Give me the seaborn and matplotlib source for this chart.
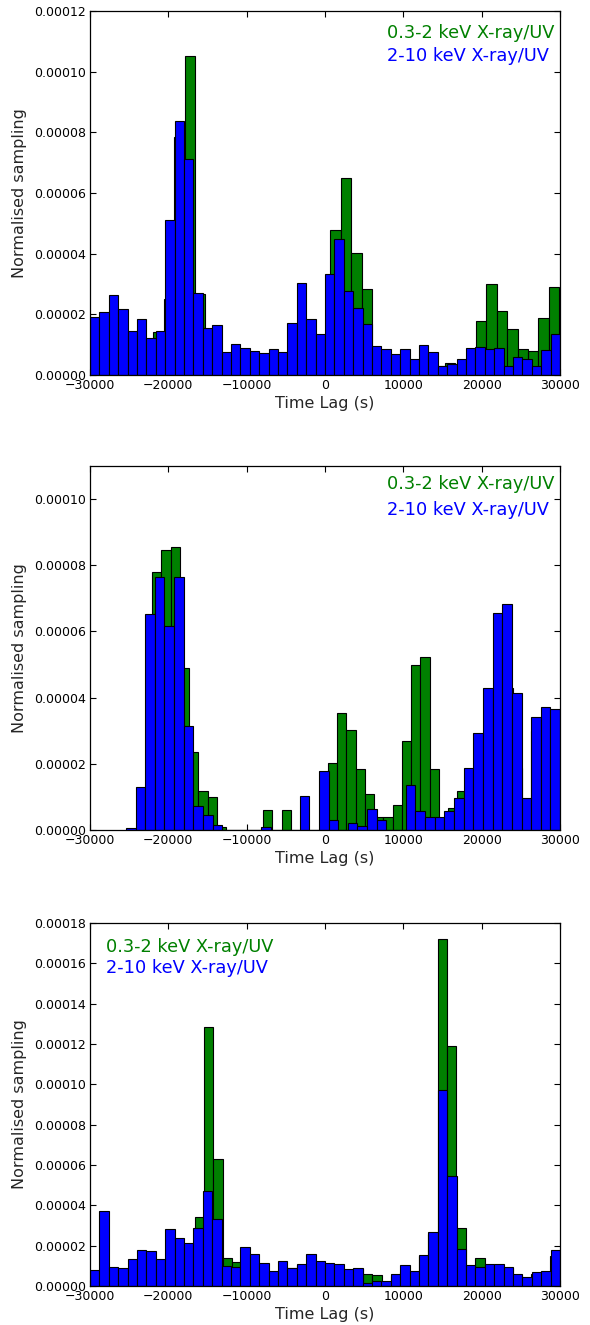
import numpy as np
import pandas as pd
import matplotlib
matplotlib.use("Agg")
import matplotlib.pyplot as plt
import seaborn as sns
from matplotlib.ticker import FormatStrFormatter, MultipleLocator

sns.set_style("white", {"xtick.direction": "in", "ytick.direction": "in",
                        "axes.edgecolor": "black"})
plt.rcParams["font.family"] = ["DejaVu Sans"]
plt.rcParams["axes.unicode_minus"] = True

# ---------------- data (normalised sampling, units of 1e-5) ----------------
series_labels = ["0.3-2 keV X-ray/UV", "2-10 keV X-ray/UV"]
x_label = "Time Lag (s)"
y_label = "Normalised sampling"
x_ticks = [-30000, -20000, -10000, 0, 10000, 20000, 30000]
units = 1e-5

# Panel 1
p1_soft_start, p1_soft_width = -29860, 1328
p1_soft = [1.8, 1.9, 2.0, 1.4, 1.4, 1.1, 1.41, 2.51, 7.86, 10.53,
           2.67, 1.4, 0.7, 0.7, 0.8, 0.75, 0.65, 0.65, 0.7, 1.5,
           1.7, 1.2, 1.2, 4.78, 6.51, 4.03, 2.82, 0.8, 0.65, 0.6,
           0.5, 0.5, 0.7, 0.3, 0.41, 0.35, 0.5, 1.79, 3.0, 2.12,
           1.50, 0.86, 0.80, 1.87, 2.91]
p1_hard_start, p1_hard_width = -30000, 1200
p1_hard = [1.92, 2.09, 2.64, 2.18, 1.46, 1.84, 1.21, 1.46, 5.11, 8.38,
           7.13, 2.71, 1.54, 1.65, 0.77, 1.02, 0.88, 0.80, 0.71, 0.85,
           0.77, 1.70, 3.04, 1.84, 1.34, 3.32, 4.47, 2.77, 2.22, 1.67,
           0.97, 0.86, 0.69, 0.86, 0.53, 0.99, 0.75, 0.31, 0.36, 0.53,
           0.88, 0.93, 0.85, 0.88, 0.31, 0.58, 0.52, 0.31, 0.82, 1.35]

# Panel 2
p2_soft_start, p2_soft_width = -23240, 1181
p2_soft = [1.2, 7.79, 8.46, 8.56, 4.90, 2.35, 1.18, 0.99, 0.08, 0.0,
           0.0, 0.0, 0.0, 0.59, 0.0, 0.59, 0.0, 0.0, 0.0, 0.0,
           2.02, 3.54, 3.03, 1.84, 1.08, 0.38, 0.38, 0.74, 2.70, 5.00,
           5.24, 1.84, 0.30, 0.66, 1.18, 1.70, 2.60, 4.00, 6.30, 4.29,
           1.87, 0.90, 3.00, 3.30, 3.30]
p2_hard_start, p2_hard_width = -25420, 1232
p2_hard = [0.06, 1.29, 6.52, 7.64, 6.16, 7.64, 3.15, 0.73, 0.45, 0.15,
           0.0, 0.0, 0.0, 0.0, 0.08, 0.0, 0.0, 0.0, 1.04, 0.0,
           1.78, 0.30, 0.0, 0.22, 0.13, 0.63, 0.30, 0.0, 0.0, 1.36,
           0.56, 0.38, 0.38, 0.56, 0.96, 1.87, 2.93, 4.29, 6.57, 6.82,
           4.14, 0.96, 3.41, 3.73, 3.67]

# Panel 3
p3_soft_start, p3_soft_width = -29778, 1194
p3_soft = [0.7, 0.85, 0.85, 0.85, 1.25, 1.6, 1.3, 1.3, 2.3, 2.1,
           2.0, 3.41, 12.84, 6.29, 1.37, 1.21, 1.5, 1.1, 0.7, 0.7,
           0.9, 0.9, 1.05, 1.2, 1.1, 1.05, 0.8, 0.8, 0.85, 0.58,
           0.55, 0.22, 0.5, 0.7, 0.7, 1.5, 2.6, 17.21, 11.88, 2.86,
           1.0, 1.41, 1.0, 1.0, 0.9, 0.55, 0.42, 0.6, 0.7, 1.5]
p3_hard_start, p3_hard_width = -30000, 1200
p3_hard = [0.79, 3.72, 0.94, 0.91, 1.32, 1.77, 1.74, 1.36, 2.81, 2.40,
           2.15, 2.86, 4.73, 3.31, 0.99, 0.94, 1.92, 1.57, 1.13, 0.73,
           1.26, 0.91, 1.09, 1.59, 1.22, 1.16, 1.09, 0.84, 0.91, 0.17,
           0.26, 0.26, 0.58, 1.06, 0.76, 1.54, 2.70, 9.73, 5.48, 1.84,
           1.06, 0.93, 1.09, 1.09, 0.96, 0.58, 0.46, 0.71, 0.76, 1.79]

panels = [
    dict(soft=(p1_soft_start, p1_soft_width, p1_soft),
         hard=(p1_hard_start, p1_hard_width, p1_hard),
         ymax=0.00012,
         rect=[0.1525, 0.7170, 0.7966, 0.2747],
         leg_x=0.633, leg_y=(0.939, 0.876)),
    dict(soft=(p2_soft_start, p2_soft_width, p2_soft),
         hard=(p2_hard_start, p2_hard_width, p2_hard),
         ymax=0.00011,
         rect=[0.1525, 0.3736, 0.7966, 0.2747],
         leg_x=0.633, leg_y=(0.950, 0.880)),
    dict(soft=(p3_soft_start, p3_soft_width, p3_soft),
         hard=(p3_hard_start, p3_hard_width, p3_hard),
         ymax=0.00018,
         rect=[0.1525, 0.0294, 0.7966, 0.2740],
         leg_x=0.034, leg_y=(0.934, 0.876)),
]

colors = ["green", "blue"]

fig = plt.figure(figsize=(5.9, 13.25), dpi=100)

for p in panels:
    ax = fig.add_axes(p["rect"])
    for (start, width, vals), col in zip([p["soft"], p["hard"]], colors):
        w = np.asarray(vals, dtype=float) * units
        n = len(w)
        centers = start + width * (np.arange(n) + 0.5)
        df = pd.DataFrame({"lag": centers, "w": w})
        sns.histplot(data=df, x="lag", weights="w",
                     binwidth=width, binrange=(start, start + width * n),
                     stat="count", color=col, alpha=1.0,
                     edgecolor="black", linewidth=0.8, ax=ax)
    ax.set_xlim(-30000, 30000)
    ax.set_ylim(0, p["ymax"])
    ax.set_xticks(x_ticks)
    ax.yaxis.set_major_locator(MultipleLocator(0.00002))
    ax.yaxis.set_major_formatter(FormatStrFormatter("%.5f"))
    ax.set_xlabel(x_label, fontsize=11.5, labelpad=3)
    ax.set_ylabel(y_label, fontsize=11.5, labelpad=5)
    ax.tick_params(axis="both", which="major", direction="in", length=4,
                   width=0.8, labelsize=9, top=True, right=True,
                   bottom=True, left=True, colors="black")
    ax.tick_params(axis="x", pad=3)
    ax.tick_params(axis="y", pad=3)
    for s in ax.spines.values():
        s.set_color("black")
        s.set_linewidth(0.9)
    for lab, col, yy in zip(series_labels, colors, p["leg_y"]):
        ax.text(p["leg_x"], yy, lab, color=col, fontsize=12.8,
                ha="left", va="center", transform=ax.transAxes)

fig.savefig("out.png", dpi=100)
